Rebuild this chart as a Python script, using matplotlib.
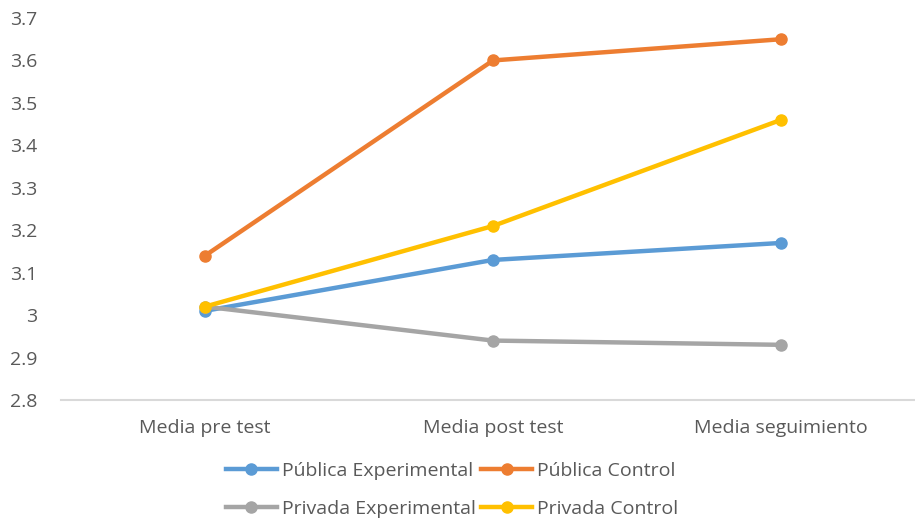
import matplotlib
matplotlib.use('Agg')
from matplotlib import pyplot as plt
from matplotlib.lines import Line2D

plt.rcParams['font.family'] = ['Open Sans', 'DejaVu Sans']

stages = ['Media pre test', 'Media post test', 'Media seguimiento']
publica_experimental = [3.01, 3.13, 3.17]
publica_control = [3.14, 3.60, 3.65]
privada_experimental = [3.02, 2.94, 2.93]
privada_control = [3.02, 3.21, 3.46]

series = [
    ('Pública Experimental', publica_experimental, '#5B9BD5'),
    ('Pública Control', publica_control, '#ED7D31'),
    ('Privada Experimental', privada_experimental, '#A5A5A5'),
    ('Privada Control', privada_control, '#FFC000'),
]

TEXT = '#595959'
FS = 14

fig = plt.figure(figsize=(9.15, 5.19), dpi=100)
ax = fig.add_axes([61 / 915, (519 - 400) / 519, 864 / 915, 382 / 519])

x = range(len(stages))
for name, vals, color in series:
    ax.plot(x, vals, color=color, linewidth=3.2, marker='o', markersize=8,
            solid_capstyle='round', label=name)

ax.set_xlim(-0.5, 2.5)
ax.set_ylim(2.8, 3.7)
ax.set_yticks([2.8, 2.9, 3.0, 3.1, 3.2, 3.3, 3.4, 3.5, 3.6, 3.7])
ax.set_yticklabels(['2.8', '2.9', '3', '3.1', '3.2', '3.3', '3.4', '3.5', '3.6', '3.7'])
ax.set_xticks(list(x))
ax.set_xticklabels(stages)
ax.tick_params(axis='both', length=0, labelsize=FS, colors=TEXT)
ax.tick_params(axis='y', pad=17)
ax.tick_params(axis='x', pad=14)

for side in ['top', 'right', 'left']:
    ax.spines[side].set_visible(False)
ax.spines['bottom'].set_color('#D9D9D9')
ax.spines['bottom'].set_linewidth(1.5)
ax.spines['bottom'].set_clip_on(False)

handles = [Line2D([], [], color=c, linewidth=3.2, marker='o', markersize=8) for _, _, c in series]
labels = [n for n, _, _ in series]
# two rows, two columns, ordered row by row
order = [0, 2, 1, 3]
fig.legend([handles[i] for i in order], [labels[i] for i in order], ncol=2,
           loc='center', bbox_to_anchor=(452 / 915, (519 - 490) / 519),
           frameon=False, fontsize=FS, labelcolor=TEXT, handlelength=2.6,
           handletextpad=0.25, columnspacing=0.3, labelspacing=1.0)

fig.savefig('out.png', dpi=100)
